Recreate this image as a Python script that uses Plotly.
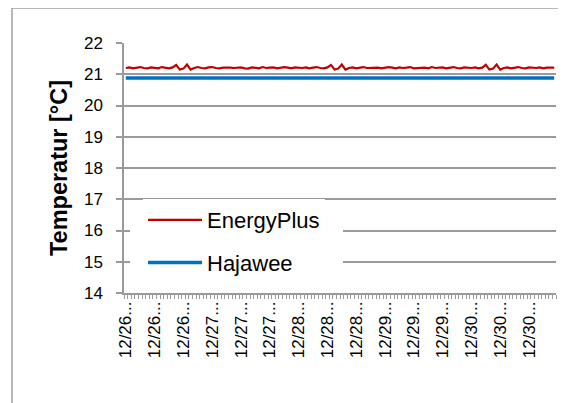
import plotly.graph_objects as go

# hour offsets since 12/26 00:00 (hourly values)
hours = list(range(120))

energyplus = [
    21.20, 21.22, 21.19, 21.21, 21.23, 21.20, 21.19, 21.22, 21.21, 21.19, 21.23, 21.20, 21.19, 21.22,
    21.30, 21.15, 21.18, 21.31, 21.15, 21.20,
    21.23, 21.20, 21.19, 21.22, 21.23, 21.20, 21.19, 21.21, 21.22, 21.21, 21.20, 21.20, 21.22, 21.19,
    21.18, 21.22, 21.21, 21.19, 21.23, 21.20, 21.21, 21.22, 21.19, 21.20, 21.23, 21.21, 21.19, 21.22,
    21.21, 21.20, 21.22, 21.19, 21.21, 21.23, 21.20, 21.19, 21.22,
    21.30, 21.15, 21.18, 21.31, 21.15, 21.20,
    21.22, 21.19, 21.21, 21.23, 21.20, 21.20, 21.22, 21.21, 21.19, 21.20, 21.23, 21.21, 21.19, 21.22,
    21.20, 21.21, 21.23, 21.19, 21.20, 21.22, 21.21, 21.19, 21.23, 21.20, 21.20, 21.22, 21.19, 21.21,
    21.23, 21.20, 21.19, 21.22, 21.21, 21.20, 21.22, 21.19, 21.21,
    21.30, 21.15, 21.18, 21.31, 21.15, 21.20,
    21.22, 21.19, 21.21, 21.23, 21.20, 21.19, 21.22, 21.21, 21.20, 21.22, 21.19, 21.21, 21.22, 21.21,
]
hajawee = [20.88] * len(hours)

tick_positions = [0, 8, 16, 24, 32, 40, 48, 56, 64, 72, 80, 88, 96, 104, 112]
tick_labels = ["12/26...", "12/26...", "12/26...", "12/27...", "12/27...", "12/27...",
               "12/28...", "12/28...", "12/28...", "12/29...", "12/29...", "12/29...",
               "12/30...", "12/30...", "12/30..."]
y_ticks = [14, 15, 16, 17, 18, 19, 20, 21, 22]

# page has an 8px body margin, so the figure is offset by 8px
OFF = 8
W, H = 566 - OFF, 403 - OFF
L, R, T, B = 124 - OFF, 556 - OFF, 43 - OFF, 293 - OFF

fig = go.Figure()
fig.add_trace(go.Scatter(x=hours, y=energyplus, mode="lines", name="EnergyPlus",
                         line=dict(color="#c00000", width=2.2), legendgroup="a"))
fig.add_trace(go.Scatter(x=hours, y=hajawee, mode="lines", name="Hajawee",
                         line=dict(color="#0070c0", width=3.5), legendgroup="b"))

grid = "#9a9a9a"
font = "Liberation Sans, Arial, sans-serif"

def px_x(p):
    return (p - OFF - L) / (R - L)

def px_y(p):
    return (B - (p - OFF)) / (B - T)

fig.update_layout(
    width=W, height=H,
    margin=dict(l=L, r=W - R, t=T, b=H - B, autoexpand=False),
    paper_bgcolor="white", plot_bgcolor="white",
    font=dict(family=font, color="black", size=17),
    showlegend=True,
    legend=dict(x=px_x(143), y=px_y(199), xanchor="left", yanchor="top",
                bgcolor="white", borderwidth=0, font=dict(size=22),
                traceorder="grouped", tracegroupgap=11, itemwidth=54),
    xaxis=dict(range=[-0.5, 119.5], tickmode="array", tickvals=tick_positions,
               ticktext=tick_labels, tickangle=-90, ticks="", showgrid=False,
               showline=True, linecolor=grid, linewidth=1.5, zeroline=False,
               tickfont=dict(size=17),
               minor=dict(ticks="outside", ticklen=4, tickmode="linear", tick0=-0.5,
                          dtick=1, tickcolor=grid, tickwidth=1, showgrid=False)),
    yaxis=dict(range=[14, 22], tickmode="array", tickvals=y_ticks, showgrid=True,
               gridcolor=grid, gridwidth=1.5, ticks="outside", ticklen=6,
               tickcolor=grid, tickwidth=1.5, showline=True, linecolor=grid,
               linewidth=1.5, zeroline=False, ticklabelstandoff=10,
               tickfont=dict(size=17),
               title=dict(text="<b>Temperatur [°C]</b>", font=dict(size=23.5), standoff=10)),
    shapes=[
        dict(type="rect", xref="paper", yref="paper",
             x0=px_x(12), x1=px_x(600), y0=px_y(440), y1=px_y(8),
             line=dict(color="#a0a0a0", width=1.5), fillcolor="rgba(0,0,0,0)",
             layer="below"),
        # legend background panel
        dict(type="rect", xref="paper", yref="paper",
             x0=px_x(130), x1=px_x(343), y0=px_y(286), y1=px_y(200),
             line=dict(width=0), fillcolor="white", layer="above"),
    ],
)

fig.write_html("out.html")
